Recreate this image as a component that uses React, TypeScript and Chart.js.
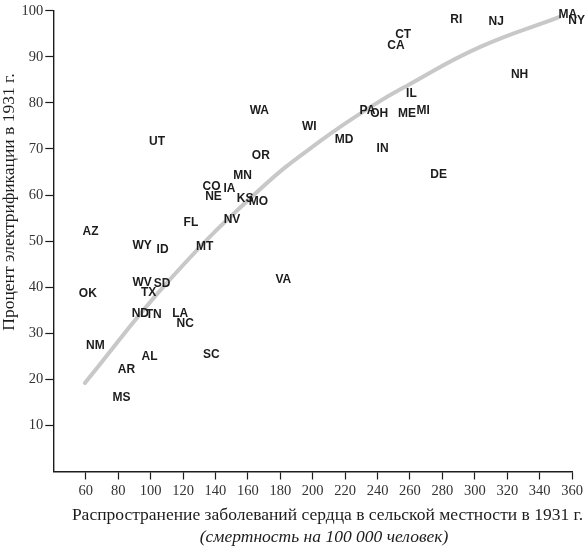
import React, { useEffect, useRef } from "react";
import { Chart, registerables } from "chart.js";

Chart.register(...registerables);

const states = [
  "RI", "NJ", "MA", "NY", "CT", "CA", "NH", "IL", "PA", "OH", "ME", "MI",
  "MD", "IN", "WI", "DE", "WA", "UT", "OR", "MN", "CO", "IA", "NE", "KS",
  "MO", "NV", "FL", "AZ", "MT", "WY", "ID", "WV", "SD", "TX", "OK", "ND",
  "TN", "LA", "NC", "NM", "AL", "SC", "AR", "MS", "VA",
];
const heartDisease = [
  288.6, 313.2, 357.3, 362.8, 255.8, 251.3, 327.6, 260.9, 233.8, 241.0, 258.2, 268.1,
  219.4, 243.1, 197.9, 277.7, 167.1, 104.0, 168.0, 156.7, 137.6, 148.7, 138.8, 158.3,
  166.5, 150.2, 124.9, 63.0, 133.3, 94.8, 107.4, 94.8, 107.1, 98.8, 61.3, 93.7,
  101.9, 118.3, 121.4, 66.0, 99.4, 137.4, 85.1, 82.0, 181.9,
];
const electrification = [
  98.1, 97.7, 99.2, 97.9, 94.8, 92.3, 86.1, 82.0, 78.3, 77.6, 77.6, 78.2,
  72.0, 70.0, 74.8, 64.5, 78.3, 71.6, 68.6, 64.3, 61.8, 61.4, 59.7, 59.2,
  58.5, 54.7, 53.9, 52.1, 48.7, 48.9, 48.1, 41.0, 40.8, 38.7, 38.6, 34.3,
  34.1, 34.2, 32.0, 27.2, 25.0, 25.4, 22.0, 16.1, 41.7,
];

const curveX = [59.5, 112, 168, 205, 237, 259, 303, 352];
const curveY = [19.2, 41.7, 61.4, 71.8, 79.4, 83.9, 92.1, 98.6];

const xTicks = [60, 80, 100, 120, 140, 160, 180, 200, 220, 240, 260, 280, 300, 320, 340, 360];
const yTicks = [10, 20, 30, 40, 50, 60, 70, 80, 90, 100];

const yTitle = "Процент электрификации в 1931 г.";
const xTitle1 = "Распространение заболеваний сердца в сельской местности в 1931 г.";
const xTitle2 = "(смертность на 100 000 человек)";

const SERIF = '"Liberation Serif", "Times New Roman", serif';
const SANS = '"Liberation Sans", Arial, sans-serif';

const labelPlugin = {
  id: "stateLabels",
  afterDatasetsDraw(chart: any) {
    const ctx = chart.ctx;
    const meta = chart.getDatasetMeta(1);
    ctx.save();
    ctx.font = `bold 12px ${SANS}`;
    ctx.fillStyle = "#1c1c1c";
    ctx.textAlign = "center";
    ctx.textBaseline = "middle";
    meta.data.forEach((el: any, i: number) => {
      ctx.fillText(states[i], el.x, el.y);
    });
    ctx.restore();
  },
};

const titlePlugin = {
  id: "axisTitles",
  afterDraw(chart: any) {
    const ctx = chart.ctx;
    ctx.save();
    ctx.fillStyle = "#1c1c1c";
    ctx.textAlign = "center";
    ctx.textBaseline = "middle";
    ctx.font = `17.5px ${SERIF}`;
    ctx.fillText(xTitle1, 327.5, 515);
    ctx.font = `italic 17.5px ${SERIF}`;
    ctx.fillText(xTitle2, 324, 537);
    ctx.translate(9, 202);
    ctx.rotate(-Math.PI / 2);
    ctx.font = `17.5px ${SERIF}`;
    ctx.fillText(yTitle, 0, 0);
    ctx.restore();
  },
};

export default function App() {
  const ref = useRef<HTMLCanvasElement | null>(null);
  useEffect(() => {
    document.body.style.margin = "0";
    const canvas = ref.current;
    if (!canvas) return;
    const chart = new Chart(canvas, {
      type: "scatter",
      data: {
        datasets: [
          {
            type: "line",
            data: curveX.map((x, i) => ({ x, y: curveY[i] })),
            borderColor: "#c8c8c8",
            borderWidth: 4,
            pointRadius: 0,
            fill: false,
            tension: 0.45,
            borderCapStyle: "round",
          } as any,
          {
            type: "scatter",
            data: heartDisease.map((x, i) => ({ x, y: electrification[i] })),
            pointRadius: 0,
            clip: false,
          } as any,
        ],
      },
      options: {
        responsive: false,
        animation: false,
        layout: { padding: { top: 5, right: 13, left: 0, bottom: 0 } },
        plugins: {
          legend: { display: false },
          tooltip: { enabled: false },
        },
        scales: {
          x: {
            type: "linear",
            min: 40,
            max: 360,
            afterBuildTicks: (scale: any) => {
              scale.ticks = xTicks.map((v) => ({ value: v }));
            },
            afterFit: (scale: any) => {
              scale.height = 75.5;
            },
            grid: {
              drawOnChartArea: false,
              tickLength: 8,
              tickColor: "#1c1c1c",
              tickWidth: 1.2,
            },
            border: { color: "#1c1c1c", width: 1.4 },
            ticks: {
              color: "#333333",
              font: { family: SERIF, size: 14.5 },
              padding: 3,
              maxRotation: 0,
              autoSkip: false,
            },
          },
          y: {
            type: "linear",
            min: 0,
            max: 100,
            afterBuildTicks: (scale: any) => {
              scale.ticks = yTicks.map((v) => ({ value: v }));
            },
            afterFit: (scale: any) => {
              scale.width = 53.3;
            },
            grid: {
              drawOnChartArea: false,
              tickLength: 8,
              tickColor: "#1c1c1c",
              tickWidth: 1.2,
            },
            border: { color: "#1c1c1c", width: 1.4 },
            ticks: {
              color: "#333333",
              font: { family: SERIF, size: 14.5 },
              padding: 2,
              autoSkip: false,
            },
          },
        },
      } as any,
      plugins: [labelPlugin, titlePlugin],
    });
    return () => chart.destroy();
  }, []);
  return (
    <div style={{ width: 586, height: 547, position: "relative" }}>
      <canvas ref={ref} width={586} height={547} style={{ width: 586, height: 547, display: "block" }} />
    </div>
  );
}
